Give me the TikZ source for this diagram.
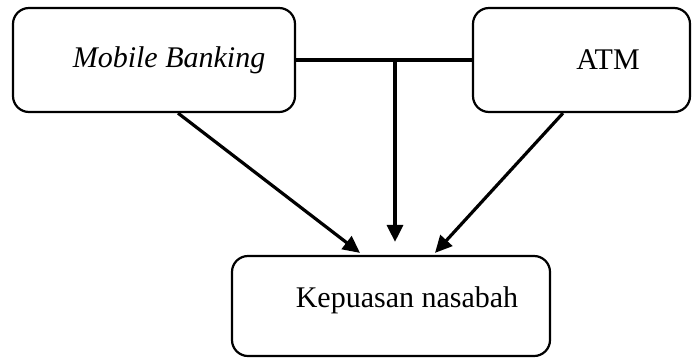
\documentclass[tikz,border=0pt]{standalone}
\usepackage{fontspec}
\setmainfont{Liberation Serif}
\usetikzlibrary{arrows.meta,calc}
\begin{document}
\begin{tikzpicture}[x=1pt,y=-1pt,
  box/.style={draw=black,line width=2.2pt,rounded corners=16pt,inner sep=0pt},
  lbl/.style={font=\fontsize{30}{36}\selectfont,inner sep=0pt},
  conn/.style={line width=3.2pt},
  arr/.style={conn,-{Triangle[length=17pt,width=16pt]}}]
\useasboundingbox (0,0) rectangle (698,360);
\node[box,minimum width=282pt,minimum height=104pt] (mb) at (154,60) {};
\node[lbl] (mbt) at (169,60) {\itshape Mobile Banking};
\node[box,minimum width=217pt,minimum height=104pt] (atm) at (581.5,60) {};
\node[lbl] (atmt) at (608,60) {ATM};
\node[box,minimum width=318pt,minimum height=100pt] (kp) at (391,306) {};
\node[lbl] (kpt) at (407,300) {Kepuasan nasabah};
\coordinate (j) at (395,60);
\draw[conn] (mb.east) -- (atm.west);
\draw[arr] (j) -- ($(kp.north)+(4,-13)$);
\draw[arr] ($(mb.south)+(24,0)$) -- ($(kp.north)+(-31,-2)$);
\draw[arr] ($(atm.south)+(-18.5,0)$) -- ($(kp.north)+(44,-2)$);
\end{tikzpicture}
\end{document}
